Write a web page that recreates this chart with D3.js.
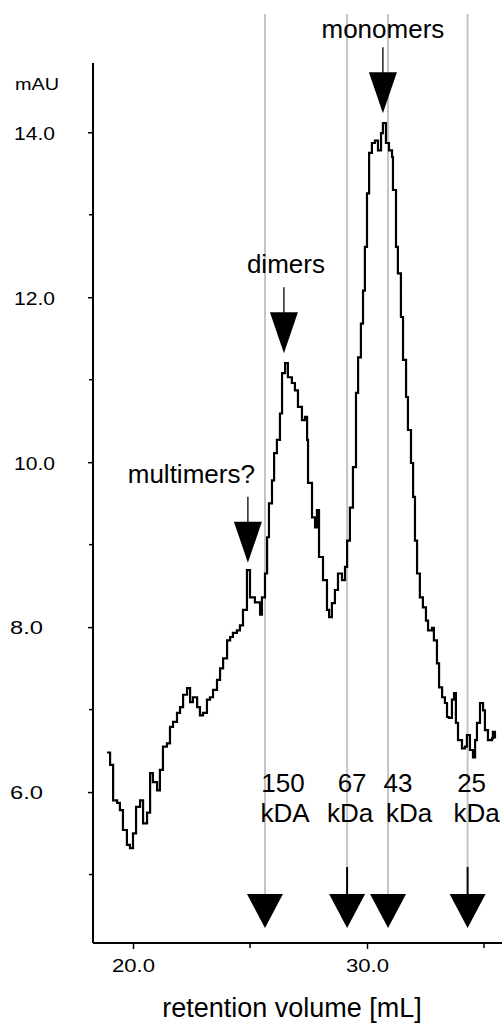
<!DOCTYPE html>
<html>
<head>
<meta charset="utf-8">
<script src="https://cdn.jsdelivr.net/npm/d3@7"></script>
<style>
  html, body { margin: 0; padding: 0; background: #fff; }
  svg { display: block; }
  text { font-family: "Liberation Sans", Arial, sans-serif; fill: #000; }
</style>
</head>
<body>
<div id="chart"></div>
<script>
// ---- data ----
const volume = [18.89,19.02,19.15,19.32,19.44,19.57,19.74,19.87,20.00,20.13,20.30,20.43,20.60,20.73,20.85,21.03,21.15,21.28,21.45,21.58,21.71,21.88,22.01,22.14,22.31,22.44,22.56,22.74,22.86,22.99,23.16,23.29,23.42,23.59,23.72,23.85,24.02,24.15,24.27,24.44,24.57,24.70,24.87,25.00,25.21,25.43,25.51,25.64,25.73,25.81,25.94,26.03,26.15,26.28,26.37,26.50,26.62,26.79,26.92,27.05,27.22,27.35,27.44,27.48,27.65,27.78,27.86,27.95,28.12,28.29,28.38,28.50,28.63,28.76,28.93,29.06,29.15,29.27,29.40,29.53,29.62,29.74,29.83,29.91,30.00,30.09,30.21,30.34,30.47,30.60,30.68,30.81,30.94,31.07,31.11,31.24,31.32,31.45,31.54,31.67,31.75,31.88,31.97,32.05,32.14,32.26,32.39,32.52,32.61,32.78,32.86,32.99,33.08,33.21,33.33,33.42,33.50,33.63,33.72,33.80,33.89,34.06,34.19,34.27,34.40,34.53,34.62,34.70,34.83,34.96,35.04,35.17,35.34,35.38,35.47];
const absorbance = [6.48,6.33,5.90,5.87,5.78,5.54,5.36,5.32,5.50,5.82,5.90,5.62,5.75,6.23,6.12,6.02,6.27,6.55,6.59,6.79,6.85,6.96,7.03,7.18,7.26,7.09,7.15,7.03,6.93,6.96,7.12,7.15,7.24,7.36,7.50,7.62,7.84,7.88,7.93,7.96,8.02,8.21,8.69,8.36,8.30,8.15,8.36,8.65,9.09,9.50,9.78,10.11,10.27,10.59,11.08,11.20,11.03,10.96,10.87,10.67,10.51,10.55,10.27,9.75,9.33,9.21,9.42,8.85,8.57,8.21,8.12,8.29,8.45,8.65,8.57,8.73,9.05,9.45,9.94,10.84,11.27,11.68,12.08,12.61,13.26,13.75,13.87,13.90,13.78,13.99,14.11,13.87,13.78,13.70,13.30,12.61,12.29,11.76,11.24,10.79,10.39,9.99,9.58,9.05,8.65,8.36,8.24,8.08,7.96,7.99,7.84,7.56,7.27,7.15,7.08,6.91,6.90,7.12,7.20,6.84,6.63,6.53,6.55,6.69,6.51,6.42,6.63,6.84,7.08,6.99,6.75,6.63,6.65,6.73,6.65];

const yTickValues = [6, 8, 10, 12, 14];
const yMinorTicks = [5, 7, 9, 11, 13];
const xTickValues = [20, 30];
const xMinorTicks = [25, 35];

const markerVolumes = [25.64, 29.15, 30.90, 34.30];
const markerMass = ["150", "67", "43", "25"];
const markerUnit = ["kDA", "kDa", "kDa", "kDa"];

const peakLabels = ["multimers?", "dimers", "monomers"];
const peakVolumes = [24.91, 26.45, 30.68];
const peakTips = [8.78, 11.32, 14.23];

const yUnit = "mAU";
const xTitle = "retention volume [mL]";

// ---- layout ----
const W = 502, H = 1024;
const svg = d3.select("#chart").append("svg").attr("width", W).attr("height", H);

const x = d3.scaleLinear().domain([18.29, 35.77]).range([93, 502]);
const y = d3.scaleLinear().domain([4.17, 14.84]).range([943, 63]);

// gray reference lines for markers
const markerTop = 14, triTop = 894, triTip = 928, stemTop = 867;
const hasStem = [false, true, false, true];
svg.append("g").selectAll("line").data(markerVolumes).join("line")
  .attr("x1", d => x(d)).attr("x2", d => x(d))
  .attr("y1", markerTop)
  .attr("y2", (d, i) => hasStem[i] ? stemTop : triTop)
  .attr("stroke", "#c4c4c4").attr("stroke-width", 2);

// bottom marker arrows
const gm = svg.append("g");
markerVolumes.forEach((v, i) => {
  const cx = x(v);
  if (hasStem[i]) {
    gm.append("line").attr("x1", cx).attr("x2", cx).attr("y1", stemTop).attr("y2", triTop + 2)
      .attr("stroke", "#000").attr("stroke-width", 2);
  }
  gm.append("path")
    .attr("d", `M${cx - 18},${triTop} L${cx + 18},${triTop} L${cx},${triTip} Z`)
    .attr("fill", "#000");
});

// marker labels
const labelOffsets = [[18, 20], [5, 3], [10, 21], [4, 9]];
markerVolumes.forEach((v, i) => {
  const cx = x(v);
  svg.append("text").attr("x", cx + labelOffsets[i][0]).attr("y", 792)
    .attr("text-anchor", "middle").attr("font-size", 26).text(markerMass[i]);
  svg.append("text").attr("x", cx + labelOffsets[i][1]).attr("y", 822)
    .attr("text-anchor", "middle").attr("font-size", 26).text(markerUnit[i]);
});

// axes
const yAxis = d3.axisLeft(y).tickValues(yTickValues).tickFormat(d3.format(".1f")).tickSize(5);
const gy = svg.append("g").attr("transform", "translate(93,0)").call(yAxis);
gy.attr("font-size", 19).attr("font-family", "Liberation Sans, Arial");
gy.select(".domain").attr("d", `M0,${63}V${943}`).attr("stroke", "#000").attr("stroke-width", 2);
gy.selectAll(".tick line").attr("stroke", "#000").attr("stroke-width", 1.5);
gy.selectAll(".tick text").style("font-size", "19px")
  .attr("x", d => d >= 10 ? -79 : -83).attr("dy", "0.36em").attr("text-anchor", "start")
  .attr("textLength", d => d >= 10 ? 41 : 33).attr("lengthAdjust", "spacingAndGlyphs");
svg.append("g").selectAll("line").data(yMinorTicks).join("line")
  .attr("x1", 89).attr("x2", 93).attr("y1", d => y(d)).attr("y2", d => y(d))
  .attr("stroke", "#000").attr("stroke-width", 1.5);

const xAxis = d3.axisBottom(x).tickValues(xTickValues).tickFormat(d3.format(".1f")).tickSize(6);
const gx = svg.append("g").attr("transform", "translate(0,943)").call(xAxis);
gx.attr("font-size", 19).attr("font-family", "Liberation Sans, Arial");
gx.select(".domain").attr("d", `M93,0H502`).attr("stroke", "#000").attr("stroke-width", 2);
gx.selectAll(".tick line").attr("stroke", "#000").attr("stroke-width", 1.5);
gx.selectAll(".tick text").style("font-size", "19px")
  .attr("dy", "0.71em").attr("y", 16)
  .attr("textLength", 43).attr("lengthAdjust", "spacingAndGlyphs");
svg.append("g").selectAll("line").data(xMinorTicks).join("line")
  .attr("x1", d => x(d)).attr("x2", d => x(d)).attr("y1", 943).attr("y2", 948)
  .attr("stroke", "#000").attr("stroke-width", 1.5);

svg.append("text").attr("x", 15).attr("y", 90).style("font-size", "16px")
  .attr("textLength", 44).attr("lengthAdjust", "spacingAndGlyphs").text(yUnit);

svg.append("text").attr("x", 292).attr("y", 1017).attr("text-anchor", "middle")
  .attr("font-size", 27).text(xTitle);

// chromatogram curve
const line = d3.line().x((d, i) => x(volume[i])).y(d => y(d)).curve(d3.curveStepAfter);
svg.append("path").datum(absorbance).attr("d", line)
  .attr("fill", "none").attr("stroke", "#000").attr("stroke-width", 2.2)
  .attr("stroke-linejoin", "miter");

// peak annotations
const textAnchors = ["end", "middle", "middle"];
const textDx = [7, 2, 0];
peakVolumes.forEach((v, i) => {
  const cx = x(v), tip = y(peakTips[i]);
  const g = svg.append("g");
  g.append("path")
    .attr("d", `M${cx - 14},${tip - 41} L${cx + 14},${tip - 41} L${cx},${tip} Z`).attr("fill", "#000");
  g.append("line").attr("x1", cx).attr("x2", cx).attr("y1", tip - 66).attr("y2", tip - 40)
    .attr("stroke", "#000").attr("stroke-width", 1.3);
  g.append("text").attr("x", cx + textDx[i]).attr("y", tip - 80 + (i === 2 ? 5 : 0))
    .attr("text-anchor", textAnchors[i]).attr("font-size", 26).text(peakLabels[i]);
});
</script>
</body>
</html>
